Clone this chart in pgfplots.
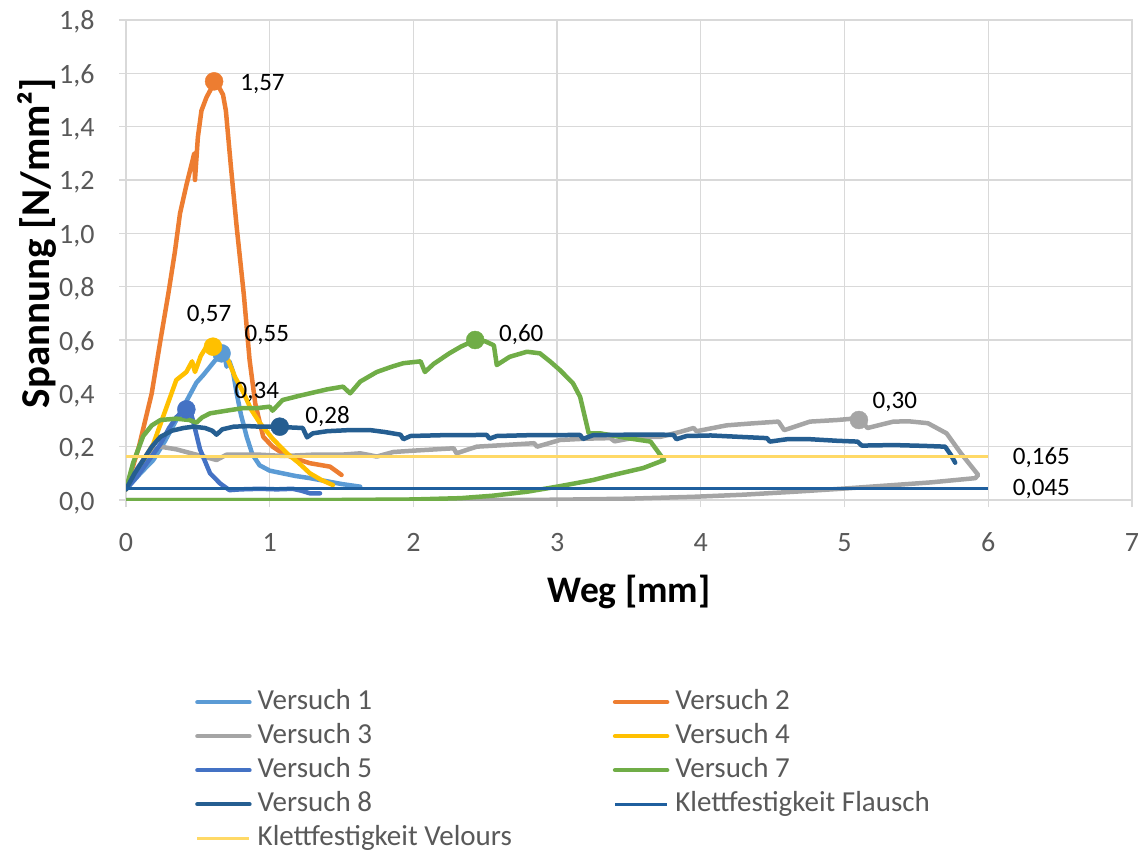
\documentclass[border=0pt]{standalone}
\usepackage{pgfplots}
\pgfplotsset{compat=1.18}
\usepackage{fontspec}
\setmainfont{Carlito}
\definecolor{cA}{HTML}{5B9BD5}
\definecolor{cB}{HTML}{ED7D31}
\definecolor{cC}{HTML}{A5A5A5}
\definecolor{cD}{HTML}{FFC000}
\definecolor{cE}{HTML}{4472C4}
\definecolor{cG}{HTML}{70AD47}
\definecolor{cH}{HTML}{255E91}
\definecolor{cFl}{HTML}{1F5F9E}
\definecolor{cVe}{HTML}{FFD966}
\definecolor{gridc}{HTML}{D9D9D9}
\definecolor{txtg}{HTML}{595959}
\begin{document}
\begin{tikzpicture}
\useasboundingbox (0,0) rectangle (1143pt,852pt);
\begin{axis}[
  at={(126pt,352pt)}, anchor=south west,
  scale only axis, width=1006pt, height=480pt,
  xmin=0, xmax=7, ymin=0, ymax=1.8,
  xtick={0,1,...,7}, xticklabels={0,1,2,3,4,5,6,7},
  ytick={0,0.2,...,1.8},
  yticklabels={{0,0},{0,2},{0,4},{0,6},{0,8},{1,0},{1,2},{1,4},{1,6},{1,8}},
  grid=major, grid style={gridc, line width=1.3pt},
  axis line style={gridc, line width=1.3pt},
  tick style={gridc, line width=1.3pt},
  tick align=outside, major tick length=7pt,
  xtick pos=bottom, ytick pos=left,
  tick label style={font=\fontsize{28}{32}\selectfont, text=txtg},
  xticklabel style={anchor=base, yshift=-44pt},
  yticklabel style={anchor=base east, xshift=-21pt, yshift=-10pt},
  xlabel={\textbf{Weg [mm]}},
  ylabel={\textbf{Spannung [N/mm²]}},
  xlabel style={font=\fontsize{37.5}{42}\selectfont, at={(axis description cs:0.5,-0.1917)}, anchor=center},
  ylabel style={font=\fontsize{41}{46}\selectfont, at={(axis description cs:-0.0885,0.535)}, anchor=center, rotate=0},
  legend style={
    at={(axis description cs:0.0686,-0.3917)}, anchor=north west,
    draw=none, fill=none, font=\fontsize{29}{34}\selectfont, text=txtg,
    legend columns=2, legend cell align=left,
    /tikz/every even column/.append style={column sep=101pt},
    /tikz/every odd column/.append style={column sep=6pt},
    row sep=6pt, inner sep=0pt,
    nodes={inner sep=0pt, text height=21pt, text depth=7pt},
  },
  legend image code/.code={\draw[#1] (0pt,0pt) -- (52pt,0pt);},
  every axis plot/.append style={line join=round, line cap=round},
  mk/.style={only marks, mark=*, mark size=9pt, forget plot},
]
% Versuch 1
\addplot[cA, line width=4.5pt] coordinates {
(0,0.04) (0.10,0.10) (0.19,0.15) (0.27,0.22) (0.35,0.30) (0.42,0.37) (0.49,0.44)
(0.54,0.47) (0.585,0.50) (0.63,0.53) (0.665,0.55) (0.69,0.53) (0.70,0.50) (0.72,0.52)
(0.745,0.48) (0.77,0.40) (0.80,0.32) (0.84,0.237) (0.88,0.17) (0.93,0.13) (1.00,0.11)
(1.09,0.10) (1.18,0.09) (1.28,0.082) (1.40,0.07) (1.50,0.06) (1.63,0.05)};
\addlegendentry{Versuch 1}
\addplot[cA, mk] coordinates {(0.665,0.55)};
% Versuch 2
\addplot[cB, line width=4.5pt] coordinates {
(0,0.04) (0.09,0.20) (0.179,0.40) (0.24,0.60) (0.295,0.775) (0.34,0.93) (0.376,1.075)
(0.42,1.18) (0.457,1.26) (0.475,1.30) (0.48,1.20) (0.50,1.36) (0.525,1.46) (0.56,1.51)
(0.59,1.54) (0.61,1.57) (0.645,1.55) (0.675,1.52) (0.695,1.46) (0.73,1.25) (0.77,1.025)
(0.82,0.77) (0.86,0.525) (0.90,0.36) (0.955,0.237) (1.02,0.20) (1.09,0.175) (1.18,0.155)
(1.28,0.138) (1.42,0.125) (1.50,0.094)};
\addlegendentry{Versuch 2}
\addplot[cB, mk] coordinates {(0.613,1.57)};
% Versuch 3
\addplot[cC, line width=4.5pt] coordinates {
(0,0.04) (0.08,0.12) (0.16,0.18) (0.24,0.20) (0.35,0.19) (0.49,0.17) (0.63,0.15)
(0.70,0.17) (0.80,0.17) (0.93,0.17) (1.10,0.165) (1.30,0.17) (1.50,0.17) (1.63,0.175)
(1.70,0.168) (1.745,0.163) (1.86,0.18) (2.00,0.185) (2.28,0.194) (2.30,0.175) (2.44,0.20)
(2.60,0.205) (2.84,0.213) (2.86,0.20) (3.02,0.225) (3.20,0.23) (3.37,0.232) (3.40,0.22)
(3.55,0.235) (3.72,0.237) (3.86,0.256) (3.95,0.27) (3.97,0.258) (4.18,0.28) (4.35,0.287)
(4.54,0.294) (4.58,0.262) (4.76,0.294) (4.95,0.30) (5.10,0.307) (5.16,0.27) (5.34,0.294)
(5.45,0.295) (5.58,0.288) (5.71,0.25) (5.81,0.175) (5.93,0.094) (5.91,0.082) (5.60,0.066)
(5.34,0.056) (5.00,0.043) (4.65,0.031) (4.30,0.02) (3.95,0.012) (3.50,0.005) (3.00,0.001)
(2.00,0) (0,0)};
\addlegendentry{Versuch 3}
\addplot[cC, mk] coordinates {(5.10,0.30)};
% Versuch 4
\addplot[cD, line width=4.5pt] coordinates {
(0,0.04) (0.10,0.13) (0.19,0.21) (0.27,0.33) (0.35,0.45) (0.42,0.48) (0.46,0.52)
(0.48,0.48) (0.52,0.54) (0.56,0.575) (0.60,0.58) (0.65,0.56) (0.71,0.525) (0.76,0.46)
(0.82,0.40) (0.87,0.34) (0.93,0.29) (1.02,0.23) (1.12,0.175) (1.20,0.14) (1.28,0.10)
(1.36,0.075) (1.44,0.056)};
\addlegendentry{Versuch 4}
\addplot[cD, mk] coordinates {(0.605,0.575)};
% Versuch 5
\addplot[cE, line width=4.5pt] coordinates {
(0,0.04) (0.08,0.09) (0.16,0.15) (0.24,0.21) (0.30,0.27) (0.35,0.31) (0.42,0.345)
(0.45,0.33) (0.47,0.29) (0.515,0.19) (0.585,0.10) (0.655,0.062) (0.72,0.037) (0.80,0.04)
(0.93,0.042) (1.05,0.04) (1.16,0.042) (1.22,0.035) (1.28,0.025) (1.35,0.025)};
\addlegendentry{Versuch 5}
\addplot[cE, mk] coordinates {(0.42,0.34)};
% Versuch 7
\addplot[cG, line width=4.5pt] coordinates {
(0,0.04) (0.05,0.14) (0.12,0.24) (0.18,0.28) (0.24,0.30) (0.35,0.305) (0.44,0.30)
(0.49,0.29) (0.53,0.31) (0.585,0.325) (0.70,0.335) (0.82,0.345) (0.92,0.345) (1.00,0.35)
(1.02,0.335) (1.09,0.375) (1.20,0.39) (1.28,0.40) (1.40,0.415) (1.51,0.425) (1.56,0.40)
(1.63,0.444) (1.745,0.48) (1.85,0.50) (1.93,0.513) (2.05,0.52) (2.08,0.48) (2.14,0.51)
(2.25,0.55) (2.33,0.575) (2.43,0.60) (2.50,0.595) (2.56,0.58) (2.58,0.506) (2.67,0.537)
(2.79,0.556) (2.88,0.55) (2.95,0.52) (3.02,0.487) (3.11,0.438) (3.16,0.387) (3.22,0.25)
(3.30,0.25) (3.49,0.232) (3.65,0.219) (3.71,0.175) (3.745,0.15) (3.60,0.12) (3.40,0.095)
(3.25,0.075) (3.00,0.05) (2.79,0.031) (2.55,0.016) (2.33,0.007) (2.00,0.002) (1.50,0) (0,0)};
\addlegendentry{Versuch 7}
\addplot[cG, mk] coordinates {(2.43,0.60)};
% Versuch 8
\addplot[cH, line width=4.5pt] coordinates {
(0,0.04) (0.06,0.10) (0.12,0.15) (0.18,0.20) (0.24,0.237) (0.32,0.26) (0.40,0.27)
(0.47,0.275) (0.55,0.27) (0.60,0.26) (0.63,0.245) (0.67,0.265) (0.75,0.275) (0.85,0.277)
(0.93,0.275) (1.07,0.275) (1.15,0.272) (1.23,0.27) (1.26,0.235) (1.30,0.25) (1.40,0.258)
(1.55,0.262) (1.70,0.262) (1.80,0.255) (1.91,0.245) (1.93,0.228) (1.98,0.24) (2.20,0.243)
(2.51,0.244) (2.53,0.23) (2.58,0.24) (2.80,0.243) (3.16,0.244) (3.18,0.229) (3.25,0.243)
(3.50,0.245) (3.72,0.245) (3.81,0.244) (3.83,0.228) (3.90,0.24) (4.07,0.242) (4.30,0.236)
(4.46,0.232) (4.48,0.219) (4.60,0.228) (4.76,0.228) (4.95,0.222) (5.09,0.219) (5.12,0.204)
(5.34,0.206) (5.55,0.203) (5.70,0.200) (5.74,0.169) (5.77,0.14)};
\addlegendentry{Versuch 8}
\addplot[cH, mk] coordinates {(1.07,0.275)};
% thresholds
\addplot[cFl, line width=3pt, line cap=butt] coordinates {(0,0.045) (6,0.045)};
\addlegendentry{Klettfestigkeit Flausch}
\addplot[cVe, line width=3pt, line cap=butt] coordinates {(0,0.165) (6,0.165)};
\addlegendentry{Klettfestigkeit Velours}
% data labels
\begin{scope}[every node/.style={font=\fontsize{25}{30}\selectfont, text=black, inner sep=0pt, anchor=center}]
\node at (axis cs:0.95,1.56) {1,57};
\node at (axis cs:0.578,0.694) {0,57};
\node at (axis cs:0.98,0.619) {0,55};
\node at (axis cs:0.91,0.406) {0,34};
\node at (axis cs:1.403,0.3125) {0,28};
\node at (axis cs:2.75,0.619) {0,60};
\node at (axis cs:5.35,0.367) {0,30};
\node at (axis cs:6.37,0.157) {0,165};
\node at (axis cs:6.37,0.041) {0,045};
\end{scope}
\end{axis}
\end{tikzpicture}
\end{document}
